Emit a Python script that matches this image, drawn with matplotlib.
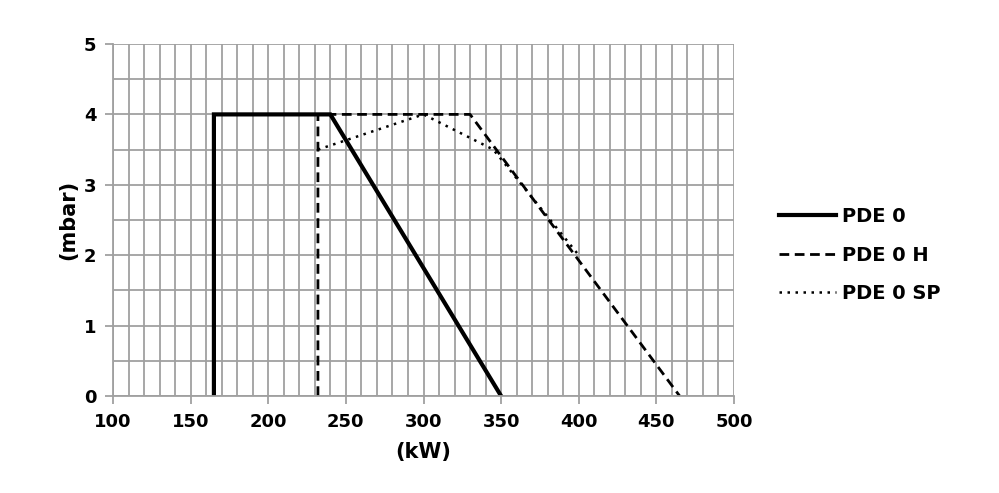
import numpy as np
import matplotlib
matplotlib.use('Agg')
import matplotlib.pyplot as plt

# PDE 0 working field
pde0_kw = [165, 165, 240, 350]
pde0_mbar = [0, 4, 4, 0]

# PDE 0 H
pde0h_kw = [232, 232, 330, 465]
pde0h_mbar = [0, 4, 4, 0]

# PDE 0 SP
pde0sp_kw = [232, 300, 345, 400]
pde0sp_mbar = [3.5, 4, 3.5, 2]

plt.rcParams['font.family'] = ['DejaVu Sans']
plt.rcParams['font.weight'] = 'bold'

fig = plt.figure(figsize=(9.99, 4.93), dpi=100)
ax = fig.add_axes([113/999, 1 - 396/493, (734-113)/999, (396-44)/493])

grid_c = '#a0a0a0'
ax.set_xlim(100, 500)
ax.set_ylim(0, 5)
ax.set_xticks(np.arange(100, 501, 50))
ax.set_yticks(np.arange(0, 6, 1))
ax.set_xticks(np.arange(100, 501, 10), minor=True)
ax.set_yticks(np.arange(0, 5.01, 0.5), minor=True)
ax.grid(which='both', color=grid_c, linewidth=1.3)
ax.set_axisbelow(True)
ax.tick_params(which='minor', length=0)
ax.tick_params(which='major', length=6, width=1.3, color=grid_c, direction='out',
               labelsize=13, pad=6)
for lab in ax.get_xticklabels() + ax.get_yticklabels():
    lab.set_fontweight('bold')
for s in ['top', 'right']:
    ax.spines[s].set_visible(False)
for s in ['left', 'bottom']:
    ax.spines[s].set_color(grid_c)
    ax.spines[s].set_linewidth(1.3)

ax.plot(pde0_kw, pde0_mbar, color='black', linewidth=3, label='PDE 0', solid_joinstyle='miter')
ax.plot(pde0h_kw, pde0h_mbar, color='black', linewidth=2, linestyle=(0, (3.5, 2)), label='PDE 0 H')
ax.plot(pde0sp_kw, pde0sp_mbar, color='black', linewidth=1.8, linestyle=(0, (1, 2.2)), label='PDE 0 SP')

ax.set_xlabel('(kW)', fontsize=15, fontweight='bold', labelpad=8)
ax.set_ylabel('(mbar)', fontsize=15, fontweight='bold', labelpad=4)

leg = ax.legend(loc='center left', bbox_to_anchor=(1.045, 0.4), frameon=False,
                fontsize=14, handlelength=2.9, handletextpad=0.3, labelspacing=1.0)
for t in leg.get_texts():
    t.set_fontweight('bold')

fig.savefig('out.png', dpi=100)
